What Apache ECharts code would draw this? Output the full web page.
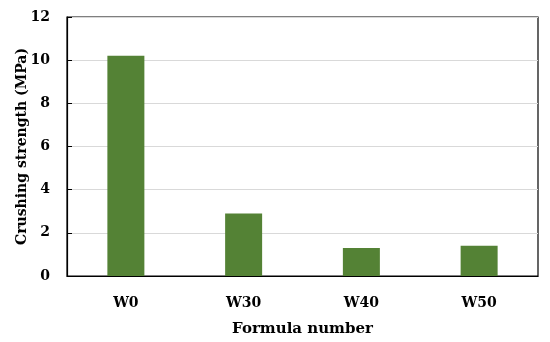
<!DOCTYPE html>
<html><head><meta charset="utf-8">
<script src="https://cdn.jsdelivr.net/npm/echarts@6/dist/echarts.min.js"></script>
<style>html,body{margin:0;padding:0;background:#fff}#c{width:550px;height:342px}</style>
</head><body><div id="c"></div>
<script>
const categories = ['W0', 'W30', 'W40', 'W50'];
const strength = [10.2, 2.9, 1.3, 1.4];
const yTitle = 'Crushing strength (MPa)';
const xTitle = 'Formula number';
const font = "'DejaVu Serif', 'Liberation Serif', serif";
const chart = echarts.init(document.getElementById('c'), null, {renderer: 'canvas'});
chart.setOption({
  animation: false,
  grid: {left: 67, top: 17, right: 12, bottom: 64, show: true, borderColor: '#000', borderWidth: 1.2},
  xAxis: {
    type: 'category', data: categories,
    name: xTitle, nameLocation: 'middle', nameGap: 46, nameMoveOverlap: false,
    nameTextStyle: {fontFamily: font, fontWeight: 'bold', fontSize: 15, color: '#000'},
    axisLine: {lineStyle: {color: '#000', width: 1.2}},
    axisTick: {inside: true, length: 5, lineStyle: {color: '#000'}},
    axisLabel: {fontFamily: font, fontWeight: 'bold', fontSize: 14, color: '#000', margin: 20}
  },
  yAxis: {
    type: 'value', min: 0, max: 12, interval: 2,
    name: yTitle, nameLocation: 'middle', nameGap: 38, nameMoveOverlap: false,
    nameTextStyle: {fontFamily: font, fontWeight: 'bold', fontSize: 14, color: '#000'},
    axisLine: {show: true, lineStyle: {color: '#000', width: 1.2}},
    axisTick: {show: true, inside: true, length: 5, lineStyle: {color: '#000'}},
    axisLabel: {fontFamily: font, fontWeight: 'bold', fontSize: 14, color: '#000', margin: 17},
    splitLine: {lineStyle: {color: '#d9d9d9', width: 1}}
  },
  series: [{
    type: 'bar', data: strength, barWidth: 37,
    itemStyle: {color: '#548235'}
  }]
});
</script></body></html>
